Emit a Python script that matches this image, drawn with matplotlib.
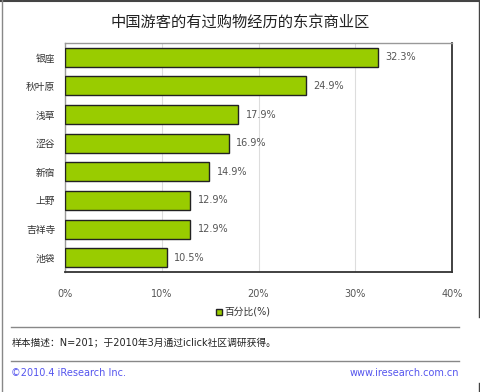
import matplotlib
matplotlib.use("Agg")
import matplotlib.pyplot as plt
from matplotlib.lines import Line2D
from matplotlib.patches import Rectangle

plt.rcParams['font.family'] = ['DejaVu Sans', 'Noto Sans CJK SC']

categories = ['银座', '秋叶原', '浅草', '涩谷', '新宿', '上野', '吉祥寺', '池袋']
values = [32.3, 24.9, 17.9, 16.9, 14.9, 12.9, 12.9, 10.5]
xticks = [0, 10, 20, 30, 40]
xtick_labels = ['0%', '10%', '20%', '30%', '40%']
title = '中国游客的有过购物经历的东京商业区'
legend_label = '百分比(%)'
note = '样本描述：N=201；于2010年3月通过iclick社区调研获得。'
footer_left = '©2010.4 iResearch Inc.'
footer_right = 'www.iresearch.com.cn'

W, H = 480, 392
fig = plt.figure(figsize=(W / 100, H / 100), dpi=100)
fig.patch.set_facecolor('white')

def fx(px):
    return px / W

def fy(py):
    return 1 - py / H

ax = fig.add_axes([fx(65), fy(272), fx(452) - fx(65), fy(43) - fy(272)])
green = '#99CC00'
ypos = list(range(len(categories)))
ax.barh(ypos, values, height=0.66, color=green, edgecolor='#222222', linewidth=1.0, zorder=3)
ax.set_xlim(0, 40)
ax.set_ylim(len(categories) - 0.5, -0.5)
ax.set_yticks(ypos)
ax.set_yticklabels(categories, fontsize=7, color='#333333')
ax.set_xticks(xticks)
ax.set_xticklabels(xtick_labels, fontsize=7, color='#555555')
ax.tick_params(axis='both', length=0)
ax.tick_params(axis='x', pad=12)
ax.tick_params(axis='y', pad=7)
for x in xticks[1:-1]:
    ax.axvline(x, color='#dddddd', linewidth=0.8, zorder=1)
for v, y in zip(values, ypos):
    ax.text(v + 0.8, y, f'{v:.1f}%', fontsize=7, color='#555555', va='center', ha='left')

for side in ['top', 'left']:
    ax.spines[side].set_color('#999999')
    ax.spines[side].set_linewidth(1.0)
for side in ['bottom', 'right']:
    ax.spines[side].set_color('#333333')
    ax.spines[side].set_linewidth(1.3)

fig.text(0.5, fy(22), title, fontsize=11, ha='center', va='center', color='#222222',
         family=['Noto Sans CJK SC'])

# legend
fig.patches.append(Rectangle((fx(216), fy(315)), 6 / W, 6 / H, transform=fig.transFigure,
                             facecolor=green, edgecolor='#222222', linewidth=1.0))
fig.text(fx(224), fy(312), legend_label, fontsize=7, ha='left', va='center', color='#333333')

# separators
for yy in [327, 361]:
    fig.add_artist(Line2D([fx(11), fx(459)], [fy(yy), fy(yy)], color='#888888', linewidth=1.0,
                          transform=fig.transFigure))

fig.text(fx(12), fy(342), note, fontsize=7, ha='left', va='center', color='#222222')
fig.text(fx(11), fy(373), footer_left, fontsize=7, ha='left', va='center', color='#5555ee')
fig.text(fx(459), fy(373), footer_right, fontsize=7, ha='right', va='center', color='#5555ee')

# outer frame
border = '#444444'
fig.add_artist(Line2D([fx(0.5), fx(479.5)], [fy(0.5), fy(0.5)], color=border, linewidth=1.5,
                      transform=fig.transFigure))
fig.add_artist(Line2D([fx(1.5), fx(1.5)], [fy(0), fy(392)], color='#888888', linewidth=1.0,
                      transform=fig.transFigure))
fig.add_artist(Line2D([fx(479), fx(479)], [fy(0), fy(317)], color=border, linewidth=1.0,
                      transform=fig.transFigure))
fig.add_artist(Line2D([fx(479), fx(479)], [fy(383), fy(392)], color=border, linewidth=1.0,
                      transform=fig.transFigure))

fig.savefig('out.png', dpi=100, facecolor='white')
